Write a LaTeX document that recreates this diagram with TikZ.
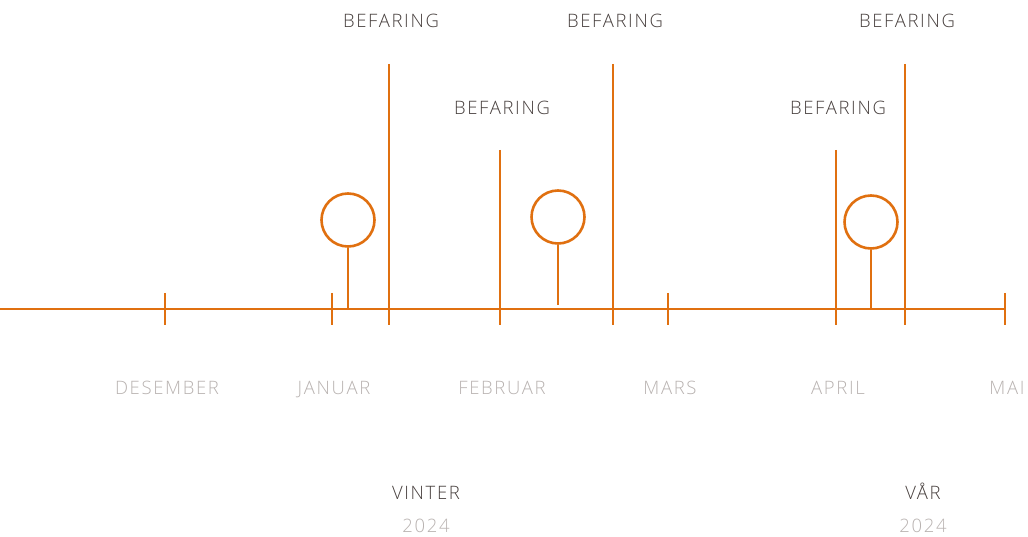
\documentclass[tikz,border=0pt]{standalone}
\usepackage{fontspec}
\setmainfont{Open Sans}[UprightFont=* Light, LetterSpace=9]
\definecolor{tlorange}{RGB}{224,112,16}
\definecolor{tldark}{RGB}{70,62,60}
\definecolor{tlgray}{RGB}{184,178,176}
\tikzset{
  axisline/.style={draw=tlorange, line width=2.8pt},
  thinline/.style={draw=tlorange, line width=1.4pt},
  visit/.style={circle, draw=tlorange, line width=2.6pt, minimum size=53pt, inner sep=0pt},
  eventlabel/.style={text=tldark, text height=13pt, text depth=0pt, font=\fontsize{18.5}{21}\selectfont},
  monthlabel/.style={text=tlgray, text height=13pt, text depth=0pt, font=\fontsize{18.5}{21}\selectfont},
}
\begin{document}
\begin{tikzpicture}[x=1pt, y=-1pt]
    \useasboundingbox (0,0) rectangle (1028,537);
    \draw[axisline] (0,309)--(1005,309);
    % month ticks and names
    \foreach \x/\m in {165/DESEMBER, 332/JANUAR, 668/MARS, 1005/MAI}
    {
        \draw[axisline] (\x,293)--(\x,325);
        \node[monthlabel] (m\x) at (\x+2,388) {\m};
    }
    \foreach \x/\m in {500/FEBRUAR, 836/APRIL}
    {
        \draw[axisline] (\x,150)--(\x,325);
        \node[monthlabel] (m\x) at (\x+2,388) {\m};
        \node[eventlabel] (b\x) at (\x+2,108) {BEFARING};
    }
    \foreach \x in {389, 613, 905}
    {
        \draw[thinline] (\x,64)--(\x,325);
        \node[eventlabel] (b\x) at (\x+2,21) {BEFARING};
    }
    % circles on stems
    \node[visit] (c1) at (348,220) {};
    \node[visit] (c2) at (558,217) {};
    \node[visit] (c3) at (871,222) {};
    \coordinate (s1) at (348,309);
    \coordinate (s2) at (558,305);
    \coordinate (s3) at (871,309);
    \draw[thinline] (c1.south)--(s1);
    \draw[thinline] (c2.south)--(s2);
    \draw[thinline] (c3.south)--(s3);
    % seasons
    \node[eventlabel] (vinter) at (426,493) {VINTER};
    \node[monthlabel] (vinteryr) at (426,526) {2024};
    \node[eventlabel] (vaar) at (923,493) {VÅR};
    \node[monthlabel] (vaaryr) at (923,526) {2024};
\end{tikzpicture}
\end{document}
